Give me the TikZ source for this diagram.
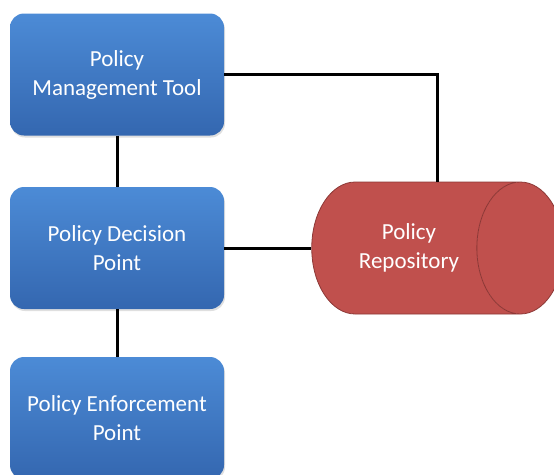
\documentclass[tikz,border=0pt]{standalone}
\usepackage{fontspec}
\setmainfont{Carlito}
\usetikzlibrary{shapes.geometric,shadows}

\definecolor{boxtop}{RGB}{76,139,214}
\definecolor{boxbot}{RGB}{52,103,176}
\definecolor{repofill}{RGB}{192,80,77}
\definecolor{repoline}{RGB}{140,56,54}

\tikzset{
  policybox/.style={rectangle, rounded corners=14pt, top color=boxtop, bottom color=boxbot,
    draw=none, minimum width=214pt, minimum height=122pt, text=white, align=center,
    font=\fontsize{23}{29}\selectfont, drop shadow={opacity=0.25, shadow xshift=1pt, shadow yshift=-2pt}},
  repobox/.style={cylinder, shape aspect=1.57, draw=repoline, line width=0.8pt,
    cylinder uses custom fill, cylinder body fill=repofill, cylinder end fill=repofill,
    minimum width=132pt, minimum height=252pt, text=white, align=center,
    font=\fontsize{23}{29}\selectfont},
  link/.style={line width=3pt, black}
}

\begin{document}
\begin{tikzpicture}[x=1pt,y=-1pt]
  \useasboundingbox (0,0) rectangle (554,474);
  % boxes on the left
  \node[policybox] (pmt) at (117,74.5) {Policy\\Management Tool};
  \node[policybox] (pdp) at (117,248) {Policy Decision\\Point};
  \node[policybox] (pep) at (117,418) {Policy Enforcement\\Point};
  % repository
  \node[repobox] (repo) at (409,248) {Policy\\Repository};
  % links
  \draw[link] (pmt) -- (pdp);
  \draw[link] (pdp) -- (pep);
  \draw[link] (pmt.east) -| ([xshift=28pt]repo.north);
  \draw[link] (pdp.east) -- (repo.west);
\end{tikzpicture}
\end{document}
